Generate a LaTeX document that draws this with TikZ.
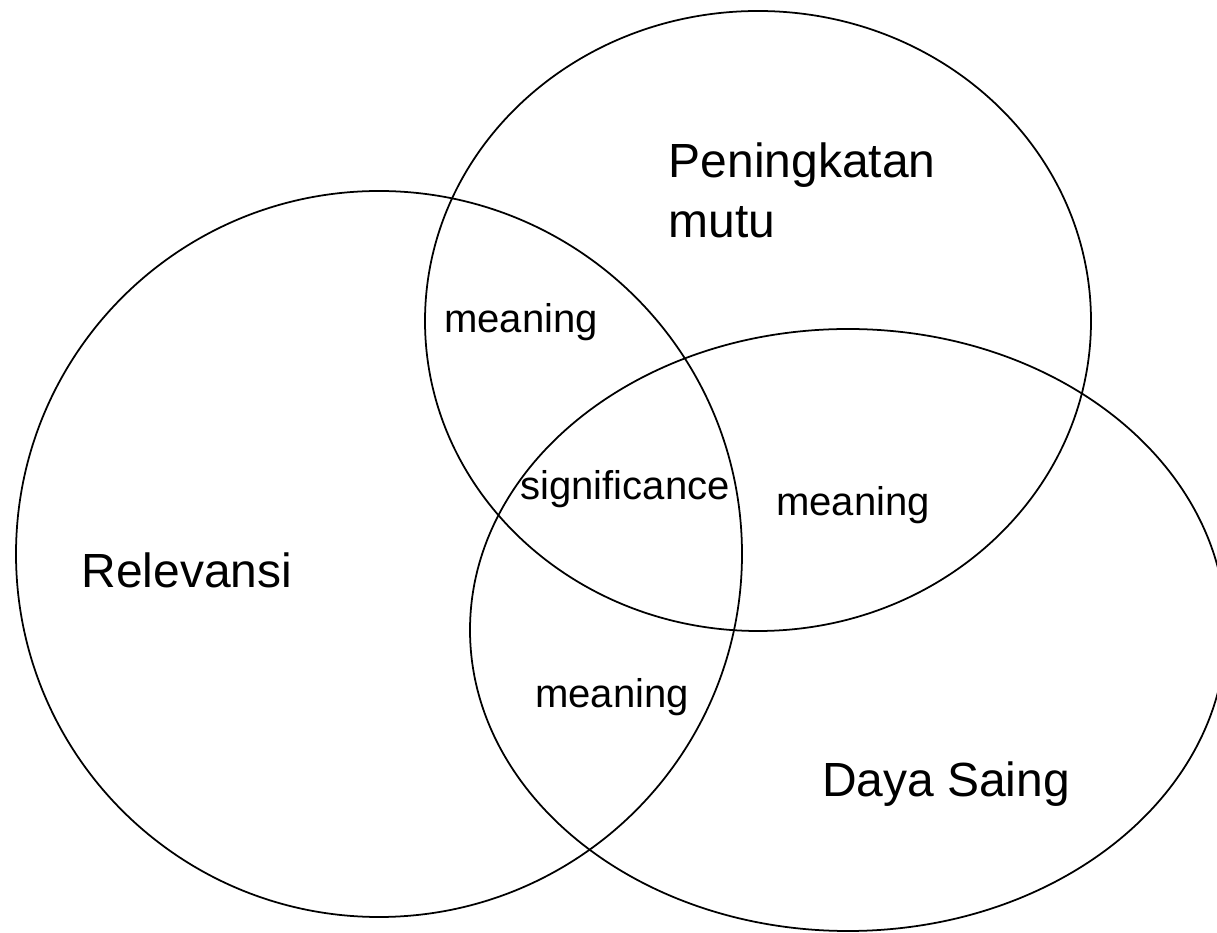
\documentclass[tikz,border=0pt]{standalone}
\usepackage{fontspec}
\setmainfont{Liberation Sans}
\begin{document}
\begin{tikzpicture}[x=0.02cm, y=0.02cm, line width=1pt,
  bigtext/.style={font=\fontsize{27.3}{34}\selectfont, inner sep=0pt},
  smalltext/.style={font=\fontsize{22.8}{27}\selectfont, inner sep=0pt}]
  \useasboundingbox (0,0) rectangle (1217,933);
  \clip (0,0) rectangle (1217,933);
  % the three sets
  \draw (379,379) circle [radius=363];
  \draw (758,612) ellipse [x radius=333, y radius=310];
  \draw (848,303) ellipse [x radius=378, y radius=301];
  % set names
  \node[bigtext] (rel) at (187,363) {Relevansi};
  \node[bigtext, align=left, anchor=west] (mutu) at (668,743) {Peningkatan\\mutu};
  \node[bigtext] (saing) at (946,149) {Daya Saing};
  % overlaps
  \node[smalltext] (relmutu) at (521,611) {meaning};
  \node[smalltext] (mutusaing) at (853,428) {meaning};
  \node[smalltext] (relsaing) at (612,236) {meaning};
  \node[smalltext] (all) at (625,444) {significance};
\end{tikzpicture}
\end{document}
